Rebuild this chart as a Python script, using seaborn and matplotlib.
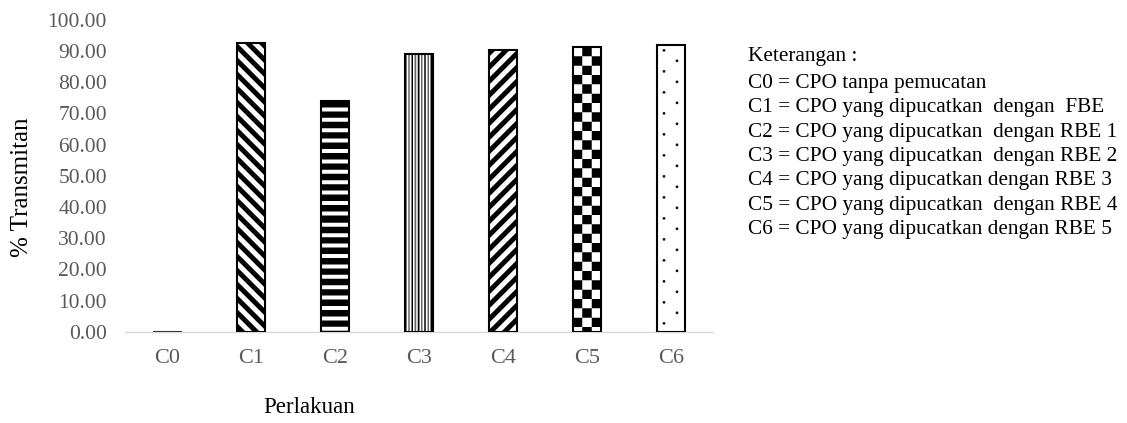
import numpy as np
import pandas as pd
import matplotlib
matplotlib.use("Agg")
import matplotlib.pyplot as plt
import seaborn as sns

# ---- data -------------------------------------------------------------
categories = ["C0", "C1", "C2", "C3", "C4", "C5", "C6"]
transmitan = [0.3, 92.6, 73.8, 88.9, 90.3, 91.3, 91.9]
fill_styles = ["solid", "back", "hline", "vline", "fwd", "checker", "dots"]

y_ticks = [0, 10, 20, 30, 40, 50, 60, 70, 80, 90, 100]
y_tick_labels = [f"{v:.2f}" for v in y_ticks]

x_title = "Perlakuan"
y_title = "% Transmitan"
note_title = "Keterangan :"
note_lines = [
    "C0 = CPO tanpa pemucatan",
    "C1 = CPO yang dipucatkan  dengan  FBE",
    "C2 = CPO yang dipucatkan  dengan RBE 1",
    "C3 = CPO yang dipucatkan  dengan RBE 2",
    "C4 = CPO yang dipucatkan dengan RBE 3",
    "C5 = CPO yang dipucatkan  dengan RBE 4",
    "C6 = CPO yang dipucatkan dengan RBE 5",
]

# ---- figure -----------------------------------------------------------
W, H, DPI = 1127, 423, 100
sns.set_theme(style="white")
plt.rcParams["font.family"] = ["Liberation Serif", "DejaVu Serif"]

TICK_GREY = "#595959"

fig = plt.figure(figsize=(W / DPI, H / DPI), dpi=DPI)
ax_left, ax_right, ax_top, ax_bottom = 125, 713, 19.7, 331.7
ax = fig.add_axes([ax_left / W, 1 - ax_bottom / H,
                   (ax_right - ax_left) / W, (ax_bottom - ax_top) / H])

df = pd.DataFrame({"Perlakuan": categories, "Transmitan": transmitan})
sns.barplot(data=df, x="Perlakuan", y="Transmitan", ax=ax, width=0.33,
            color="white", saturation=1, edgecolor="black", linewidth=1.5)

ax.set_xlim(-0.5, len(categories) - 0.5)
ax.set_ylim(0, 100)


# ---- texture fills (computed in device pixels, supersampled) ----------
def texture(style, nx, ny, ss=4):
    j = (np.arange(nx * ss) + 0.5) / ss
    i = (np.arange(ny * ss) + 0.5) / ss
    J, I = np.meshgrid(j, i)
    img = np.ones_like(J)
    if style == "solid":
        img[:] = 0.35
    elif style == "back":
        img[np.mod(I - J, 14.0) < 7.0] = 0.0
    elif style == "fwd":
        img[np.mod(I + J, 14.0) < 7.0] = 0.0
    elif style == "hline":
        img[np.mod(I, 10.4) < 6.4] = 0.0
    elif style == "vline":
        period = 3.2
        k = np.floor(J / period).astype(int)
        on = np.mod(J, period) < 1.6
        img[on & (k % 2 == 0)] = 0.0
        img[on & (k % 2 == 1)] = 0.4
    elif style == "checker":
        s = nx / 3.0
        img[(np.floor(I / s) + np.floor(J / s)) % 2 == 1] = 0.0
    elif style == "dots":
        r = 1.4
        for cx, phase in ((7.0, 5.3), (20.0, 15.8)):
            dy = np.mod(I - phase + 10.5, 21.0) - 10.5
            img[(J - cx) ** 2 + dy ** 2 < r * r] = 0.1
    img = img.reshape(ny, ss, nx, ss).mean(axis=(1, 3))
    return img


for patch, style in zip(ax.patches, fill_styles):
    x0, w, h = patch.get_x(), patch.get_width(), patch.get_height()
    (px0, py0), (px1, py1) = ax.transData.transform([(x0, 0), (x0 + w, h)])
    nx = max(1, int(round(px1 - px0)))
    ny = max(1, int(round(py1 - py0)))
    ax.imshow(texture(style, nx, ny), extent=(x0, x0 + w, 0, h),
              cmap="gray", vmin=0, vmax=1, interpolation="nearest",
              aspect="auto", origin="upper", zorder=2)
    patch.set_facecolor("none")
    patch.set_zorder(3)
    if style == "solid":
        patch.set_edgecolor("#3a3a3a")
        patch.set_linewidth(0.8)

ax.set_xlim(-0.5, len(categories) - 0.5)
ax.set_ylim(0, 100)

# ---- axes styling -----------------------------------------------------
ax.set_yticks(y_ticks)
ax.set_yticklabels(y_tick_labels)
ax.tick_params(axis="y", length=0, pad=13, labelsize=15.5, labelcolor=TICK_GREY)
ax.tick_params(axis="x", length=0, pad=12.6, labelsize=16, labelcolor=TICK_GREY)
for side in ("left", "top", "right"):
    ax.spines[side].set_visible(False)
ax.spines["bottom"].set_color("#d9d9d9")
ax.spines["bottom"].set_linewidth(1.0)
ax.spines["bottom"].set_zorder(1)
ax.grid(False)

ax.set_xlabel(x_title, fontsize=16.6, color="black")
ax.xaxis.label.set_va("baseline")
ax.xaxis.set_label_coords((309 - ax_left) / (ax_right - ax_left),
                          (ax_bottom - 413) / (ax_bottom - ax_top))

ax.set_ylabel(y_title, fontsize=18, color="black")
ax.yaxis.label.set_va("baseline")
ax.yaxis.set_label_coords((28 - ax_left) / (ax_right - ax_left),
                          (ax_bottom - 187) / (ax_bottom - ax_top))

# ---- explanatory notes -----------------------------------------------
note_x = 748
fig.text(note_x / W, 1 - 61 / H, note_title, fontsize=15.3,
         color="black", va="baseline", ha="left")
for k, line in enumerate(note_lines):
    base = 88 + k * 24.33
    fig.text(note_x / W, 1 - base / H, line, fontsize=15.3,
             color="black", va="baseline", ha="left")

fig.savefig("out.png", dpi=DPI)
